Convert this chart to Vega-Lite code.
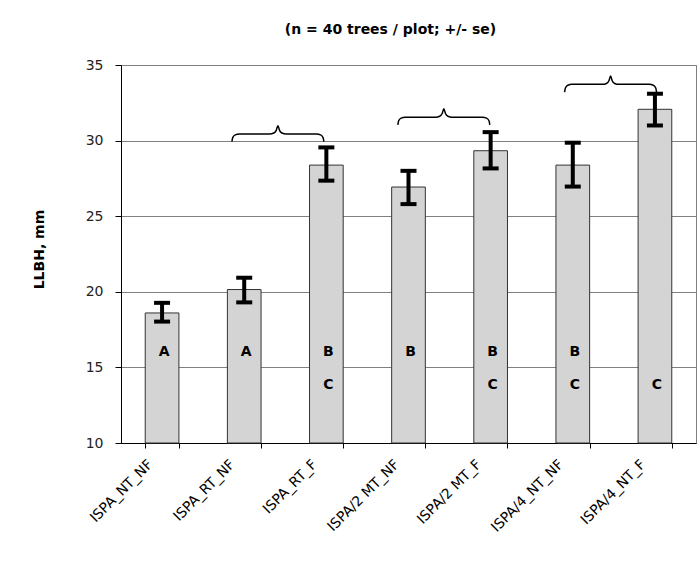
{
  "$schema": "https://vega.github.io/schema/vega-lite/v6.json",
  "width": 575,
  "height": 378,
  "autosize": {"type": "none"},
  "padding": {"left": 121, "top": 65, "right": 4, "bottom": 131},
  "background": "white",
  "title": {"text": "(n = 40 trees / plot; +/- se)", "font": "DejaVu Sans", "fontSize": 14, "fontWeight": "bold", "color": "#000", "anchor": "middle", "offset": 21, "dx": -18},
  "config": {"view": {"stroke": "#808080", "strokeWidth": 1}, "font": "Liberation Sans"},
  "datasets": {
    "bars": [
      {"cat": "ISPA_NT_NF", "mean": 18.6, "lo": 18.03, "hi": 19.27},
      {"cat": "ISPA_RT_NF", "mean": 20.15, "lo": 19.3, "hi": 20.93},
      {"cat": "ISPA_RT_F", "mean": 28.38, "lo": 27.35, "hi": 29.55},
      {"cat": "ISPA/2 MT_NF", "mean": 26.93, "lo": 25.8, "hi": 28.0},
      {"cat": "ISPA/2 MT_F", "mean": 29.33, "lo": 28.16, "hi": 30.56},
      {"cat": "ISPA/4_NT_NF", "mean": 28.38, "lo": 26.96, "hi": 29.86},
      {"cat": "ISPA/4_NT_F", "mean": 32.07, "lo": 31.0, "hi": 33.1}
    ],
    "letters": [
      {"cat": "ISPA_NT_NF", "letter": "A"},
      {"cat": "ISPA_RT_NF", "letter": "A"},
      {"cat": "ISPA_RT_F", "letter": "B"},
      {"cat": "ISPA_RT_F", "letter": "C"},
      {"cat": "ISPA/2 MT_NF", "letter": "B"},
      {"cat": "ISPA/2 MT_F", "letter": "B"},
      {"cat": "ISPA/2 MT_F", "letter": "C"},
      {"cat": "ISPA/4_NT_NF", "letter": "B"},
      {"cat": "ISPA/4_NT_NF", "letter": "C"},
      {"cat": "ISPA/4_NT_F", "letter": "C"}
    ],
    "braces": [
      {"brace": 1, "bx": 1.35, "by": 29.93}, {"brace": 1, "bx": 1.36, "by": 30.2}, {"brace": 1, "bx": 1.39, "by": 30.38}, {"brace": 1, "bx": 1.44, "by": 30.44}, {"brace": 1, "bx": 1.81, "by": 30.44}, {"brace": 1, "bx": 1.86, "by": 30.5}, {"brace": 1, "bx": 1.89, "by": 30.68}, {"brace": 1, "bx": 1.91, "by": 30.99}, {"brace": 1, "bx": 1.93, "by": 30.68}, {"brace": 1, "bx": 1.96, "by": 30.5}, {"brace": 1, "bx": 2.01, "by": 30.44}, {"brace": 1, "bx": 2.38, "by": 30.44}, {"brace": 1, "bx": 2.43, "by": 30.38}, {"brace": 1, "bx": 2.46, "by": 30.2}, {"brace": 1, "bx": 2.47, "by": 29.93},
      {"brace": 2, "bx": 3.37, "by": 31.04}, {"brace": 2, "bx": 3.38, "by": 31.31}, {"brace": 2, "bx": 3.41, "by": 31.49}, {"brace": 2, "bx": 3.46, "by": 31.55}, {"brace": 2, "bx": 3.83, "by": 31.55}, {"brace": 2, "bx": 3.88, "by": 31.61}, {"brace": 2, "bx": 3.91, "by": 31.79}, {"brace": 2, "bx": 3.93, "by": 32.1}, {"brace": 2, "bx": 3.95, "by": 31.79}, {"brace": 2, "bx": 3.98, "by": 31.61}, {"brace": 2, "bx": 4.03, "by": 31.55}, {"brace": 2, "bx": 4.4, "by": 31.55}, {"brace": 2, "bx": 4.45, "by": 31.49}, {"brace": 2, "bx": 4.48, "by": 31.31}, {"brace": 2, "bx": 4.49, "by": 31.04},
      {"brace": 3, "bx": 5.4, "by": 33.21}, {"brace": 3, "bx": 5.41, "by": 33.48}, {"brace": 3, "bx": 5.44, "by": 33.66}, {"brace": 3, "bx": 5.49, "by": 33.72}, {"brace": 3, "bx": 5.86, "by": 33.72}, {"brace": 3, "bx": 5.91, "by": 33.78}, {"brace": 3, "bx": 5.94, "by": 33.96}, {"brace": 3, "bx": 5.96, "by": 34.27}, {"brace": 3, "bx": 5.98, "by": 33.96}, {"brace": 3, "bx": 6.01, "by": 33.78}, {"brace": 3, "bx": 6.06, "by": 33.72}, {"brace": 3, "bx": 6.43, "by": 33.72}, {"brace": 3, "bx": 6.48, "by": 33.66}, {"brace": 3, "bx": 6.51, "by": 33.48}, {"brace": 3, "bx": 6.52, "by": 33.21}
    ]
  },
  "layer": [
    {
      "encoding": {
        "x": {
          "field": "cat", "type": "nominal",
          "scale": {"domain": ["ISPA_NT_NF", "ISPA_RT_NF", "ISPA_RT_F", "ISPA/2 MT_NF", "ISPA/2 MT_F", "ISPA/4_NT_NF", "ISPA/4_NT_F"], "paddingInner": 0.59, "paddingOuter": 0.295},
          "axis": {"title": null, "labelAngle": -45, "labelAlign": "right", "labelBaseline": "middle", "labelFont": "DejaVu Sans", "labelFontSize": 14, "labelColor": "#000", "labelPadding": 14, "labelOffset": -12, "labelLimit": 0, "labelOverlap": false, "tickBand": "extent", "tickSize": 5, "tickColor": "#000", "domainColor": "#000", "grid": false}
        }
      },
      "layer": [
        {
          "data": {"name": "bars"},
          "mark": {"type": "bar", "fill": "#d4d4d4", "stroke": "#333333", "strokeWidth": 1},
          "encoding": {
            "y": {
              "field": "mean", "type": "quantitative",
              "scale": {"domain": [10, 35], "nice": false, "zero": false},
              "axis": {"values": [10, 15, 20, 25, 30, 35], "title": "LLBH, mm", "titleFont": "DejaVu Sans", "titleFontSize": 14, "titleFontWeight": "bold", "titleColor": "#000", "titleAngle": 270, "titleX": -82, "titleY": 184, "titleAlign": "center", "titleBaseline": "middle", "labelFont": "DejaVu Sans", "labelFontSize": 14, "labelColor": "#222", "labelPadding": 12, "tickSize": 6, "tickColor": "#000", "domainColor": "#000", "grid": true, "gridColor": "#808080", "gridWidth": 1, "gridOpacity": 1}
            },
            "y2": {"datum": 10}
          }
        },
        {
          "data": {"name": "bars"},
          "mark": {"type": "rule", "color": "#000", "strokeWidth": 4},
          "encoding": {"y": {"field": "lo", "type": "quantitative"}, "y2": {"field": "hi"}}
        },
        {
          "data": {"name": "bars"},
          "mark": {"type": "tick", "color": "#000", "size": 16, "thickness": 4, "opacity": 1},
          "encoding": {"y": {"field": "hi", "type": "quantitative"}}
        },
        {
          "data": {"name": "bars"},
          "mark": {"type": "tick", "color": "#000", "size": 16, "thickness": 4, "opacity": 1},
          "encoding": {"y": {"field": "lo", "type": "quantitative"}}
        },
        {
          "data": {"name": "letters"},
          "transform": [{"filter": "datum.letter !== 'C'"}],
          "mark": {"type": "text", "font": "DejaVu Sans", "fontSize": 14, "fontWeight": "bold", "color": "#000", "baseline": "middle", "dx": 2},
          "encoding": {"y": {"datum": 16.0}, "text": {"field": "letter"}}
        },
        {
          "data": {"name": "letters"},
          "transform": [{"filter": "datum.letter === 'C'"}],
          "mark": {"type": "text", "font": "DejaVu Sans", "fontSize": 14, "fontWeight": "bold", "color": "#000", "baseline": "middle", "dx": 2},
          "encoding": {"y": {"datum": 13.85}, "text": {"field": "letter"}}
        }
      ]
    },
    {
      "data": {"name": "braces"},
      "mark": {"type": "line", "color": "#000", "strokeWidth": 1.5, "interpolate": "monotone"},
      "encoding": {
        "x": {"field": "bx", "type": "quantitative", "scale": {"domain": [0, 7], "nice": false, "zero": false}, "axis": null},
        "y": {"field": "by", "type": "quantitative"},
        "detail": {"field": "brace"}
      }
    }
  ],
  "resolve": {"scale": {"x": "independent"}, "axis": {"x": "independent"}}
}
